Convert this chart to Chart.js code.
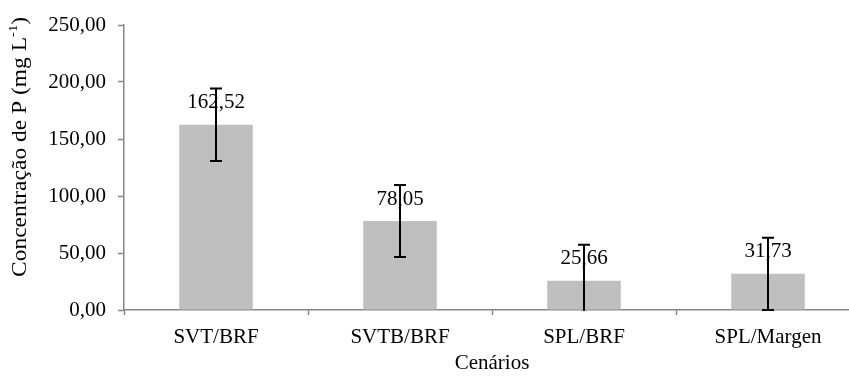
<!DOCTYPE html>
<html>
<head>
<meta charset="utf-8">
<script src="https://cdn.jsdelivr.net/npm/chart.js@4/dist/chart.umd.min.js"></script>
<style>
  html, body { margin: 0; padding: 0; background: #fff; }
  #frame { width: 849px; height: 376px; overflow: hidden; position: relative; }
  #wrap { width: 870px; height: 376px; }
</style>
</head>
<body>
<div id="frame"><div id="wrap"><canvas id="c" width="870" height="376"></canvas></div></div>
<script>
// Phosphorus concentration by scenario
const categories = ['SVT/BRF', 'SVTB/BRF', 'SPL/BRF', 'SPL/Margen'];
const meanValues = [162.52, 78.05, 25.66, 31.73];
const errorValues = [31.8, 31.5, 31.6, 31.7];
const yTicks = [0, 50, 100, 150, 200, 250];

const SERIF = '"Liberation Serif", "Times New Roman", serif';
const AXIS_GRAY = '#868686';

const fmt = v => v.toFixed(2).replace('.', ',');

// value labels above each bar
const valueLabels = {
  id: 'valueLabels',
  afterDatasetsDraw(chart) {
    const ctx = chart.ctx;
    const meta = chart.getDatasetMeta(0);
    ctx.save();
    ctx.font = '21px ' + SERIF;
    ctx.fillStyle = '#000';
    ctx.textAlign = 'center';
    ctx.textBaseline = 'middle';
    meta.data.forEach((bar, i) => {
      ctx.fillText(fmt(meanValues[i]), bar.x, bar.y - 22);
    });
    ctx.restore();
  }
};

// symmetric error bars with caps
const errorBars = {
  id: 'errorBars',
  afterDatasetsDraw(chart) {
    const ctx = chart.ctx;
    const y = chart.scales.y;
    const area = chart.chartArea;
    const meta = chart.getDatasetMeta(0);
    ctx.save();
    ctx.beginPath();
    ctx.rect(area.left, area.top - 2, area.right - area.left, area.bottom - area.top + 3);
    ctx.clip();
    ctx.strokeStyle = '#000';
    ctx.lineWidth = 2;
    meta.data.forEach((bar, i) => {
      const top = y.getPixelForValue(meanValues[i] + errorValues[i]);
      const bot = y.getPixelForValue(meanValues[i] - errorValues[i]);
      const x = Math.round(bar.x);
      ctx.beginPath();
      ctx.moveTo(x, top); ctx.lineTo(x, bot);
      ctx.moveTo(x - 6, top); ctx.lineTo(x + 6, top);
      ctx.moveTo(x - 6, bot); ctx.lineTo(x + 6, bot);
      ctx.stroke();
    });
    ctx.restore();
  }
};

// rotated y-axis title with superscript unit exponent
const yTitle = {
  id: 'yTitle',
  afterDraw(chart) {
    const ctx = chart.ctx;
    const main = 'Concentração de P (mg L';
    const sup = '-1';
    const tail = ')';
    ctx.save();
    ctx.fillStyle = '#000';
    ctx.textBaseline = 'middle';
    ctx.textAlign = 'left';
    ctx.font = '21px ' + SERIF;
    const wMain = ctx.measureText(main).width;
    const wTail = ctx.measureText(tail).width;
    ctx.font = '13px ' + SERIF;
    const wSup = ctx.measureText(sup).width;
    const total = wMain + wSup + wTail;
    ctx.translate(20, 147);
    ctx.rotate(-Math.PI / 2);
    ctx.scale(260 / total, 1);
    let x = -total / 2;
    ctx.font = '21px ' + SERIF;
    ctx.fillText(main, x, 0);
    x += wMain;
    ctx.font = '13px ' + SERIF;
    ctx.fillText(sup, x, -6);
    x += wSup;
    ctx.font = '21px ' + SERIF;
    ctx.fillText(tail, x, 0);
    ctx.restore();
  }
};

new Chart(document.getElementById('c'), {
  type: 'bar',
  data: {
    labels: categories,
    datasets: [{
      data: meanValues,
      backgroundColor: '#bfbfbf',
      borderWidth: 0,
      barPercentage: 0.4,
      categoryPercentage: 1.0
    }]
  },
  options: {
    responsive: false,
    animation: false,
    layout: { padding: { top: 25, right: 10, bottom: 0, left: 0 } },
    plugins: { legend: { display: false }, tooltip: { enabled: false } },
    scales: {
      x: {
        offset: true,
        grid: {
          offset: true,
          drawOnChartArea: false,
          drawTicks: true,
          tickLength: 5,
          tickWidth: 1.5,
          color: AXIS_GRAY
        },
        border: { color: AXIS_GRAY, width: 1.5 },
        ticks: {
          color: '#000',
          font: { family: SERIF, size: 21 },
          padding: 10,
          maxRotation: 0,
          autoSkip: false
        },
        title: {
          display: true,
          text: 'Cenários',
          color: '#000',
          font: { family: SERIF, size: 21 },
          padding: { top: 0, bottom: 0 }
        },
        afterFit(s) { s.height = 66; }
      },
      y: {
        min: 0,
        max: 250,
        afterBuildTicks(s) { s.ticks = yTicks.map(v => ({ value: v })); },
        grid: {
          drawOnChartArea: false,
          drawTicks: true,
          tickLength: 6,
          tickWidth: 1.5,
          color: AXIS_GRAY
        },
        border: { color: AXIS_GRAY, width: 1.5 },
        ticks: {
          color: '#000',
          font: { family: SERIF, size: 21 },
          padding: 12,
          callback: v => fmt(v)
        },
        afterFit(s) { s.width = 124; }
      }
    }
  },
  plugins: [valueLabels, errorBars, yTitle]
});
</script>
</body>
</html>
